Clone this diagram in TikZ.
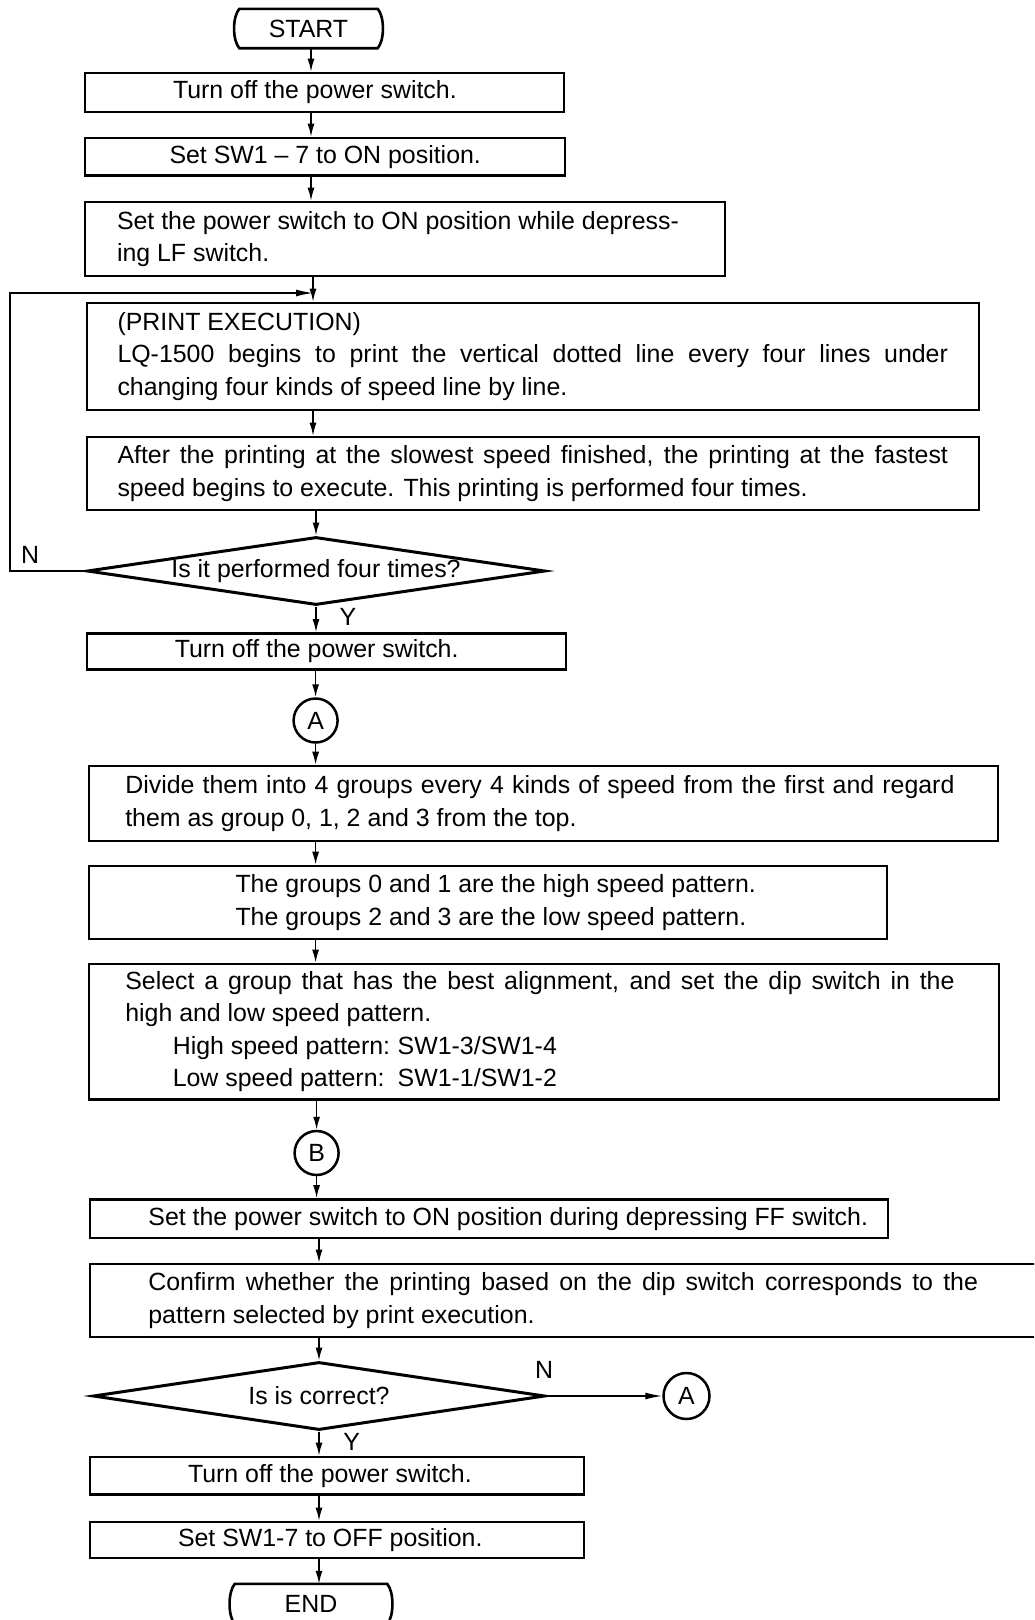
\documentclass[tikz,border=0pt]{standalone}
\usepackage{fontspec}
\setmainfont{Liberation Sans}
\usetikzlibrary{shapes.geometric,arrows.meta}
\setlength{\parindent}{0pt}
\tolerance=10000
\hbadness=10000
\newcommand{\boxtext}[4]{\parbox{#1}{\leftskip=#2\relax\rightskip=#3\relax\parfillskip=0pt plus 1fil\relax #4}}
\begin{document}
\begin{tikzpicture}[x=1pt,y=-1pt,
  every node/.style={font=\fontsize{24.9}{32.5}\selectfont},
  box/.style={draw,line width=2.6pt,rectangle,inner xsep=0pt,inner ysep=0pt},
  dec/.style={draw,diamond,line width=3pt,inner sep=0pt},
  conn/.style={draw,circle,line width=2.5pt,inner sep=0pt,minimum size=44pt},
  term/.style={rectangle,inner sep=0pt},
  termline/.style={line width=2.6pt},
  arr/.style={line width=1.5pt,-{Latex[length=13pt,width=7pt]}},
  harr/.style={line width=1.5pt,-{Latex[length=17pt,width=7pt]}},
  lbl/.style={inner sep=0pt}
]
\useasboundingbox (0,0) rectangle (1034,1620);
\clip (0,0) rectangle (1034,1620);

% spine coordinates
\coordinate (s1) at (311,0);
\coordinate (m) at (313,293);
\coordinate (nx) at (10,0);

% terminal START
\node[term,minimum width=150pt,minimum height=39pt] (start) at (308.5,28.5) {START};
\draw[termline] ([xshift=6pt]start.north west) -- ([xshift=-6pt]start.north east)
  .. controls ([xshift=1pt,yshift=-8pt]start.north east) and ([xshift=1pt,yshift=8pt]start.south east) .. ([xshift=-6pt]start.south east)
  -- ([xshift=6pt]start.south west)
  .. controls ([xshift=-1pt,yshift=8pt]start.south west) and ([xshift=-1pt,yshift=-8pt]start.north west) .. cycle;

% boxes
\node[box,minimum height=39pt] (b1) at (324.5,92.5)
  {\boxtext{479pt}{88pt}{0pt}{Turn off the power switch.}};
\node[box,minimum height=37.5pt] (b2) at (325,156.75)
  {\boxtext{480pt}{84.5pt}{0pt}{Set SW1 -- 7 to ON position.}};
\node[box,minimum height=74pt] (b3) at (405,239)
  {\boxtext{640pt}{32pt}{0pt}{Set the power switch to ON position while depress-\\ing LF switch.}};
\node[box,minimum height=107pt] (b4) at (533,356.5)
  {\boxtext{892pt}{30.5pt}{31pt}{(PRINT EXECUTION)\\LQ-1500 begins to print the vertical dotted line every four lines under\linebreak changing four kinds of speed line by line.}};
\node[box,minimum height=73pt] (b5) at (533,473.5)
  {\boxtext{892pt}{30.5pt}{31pt}{After the printing at the slowest speed finished, the printing at the fastest\linebreak speed begins to execute. This printing is performed four times.}};

\node[dec,minimum width=458pt,minimum height=68pt,aspect=6.73] (d1) at (316,571) {Is it performed four times?};

\node[box,minimum height=36pt] (b6) at (326.5,651.5)
  {\boxtext{479pt}{87.8pt}{0pt}{Turn off the power switch.}};

\node[conn] (A) at (315.6,720.5) {A};

\node[box,minimum height=75pt] (b7) at (543.5,803.5)
  {\boxtext{909pt}{36.3pt}{43.5pt}{Divide them into 4 groups every 4 kinds of speed from the first and regard\linebreak them as group 0, 1, 2 and 3 from the top.}};
\node[box,minimum height=73pt] (b8) at (488,902.5)
  {\boxtext{798pt}{146.5pt}{0pt}{The groups 0 and 1 are the high speed pattern.\\The groups 2 and 3 are the low speed pattern.}};
\node[box,minimum height=135.5pt] (b9) at (544,1031.7)
  {\boxtext{910pt}{36.3pt}{44.5pt}{Select a group that has the best alignment, and set the dip switch in the\linebreak high and low speed pattern.\\\hspace*{47.5pt}\makebox[225pt][l]{High speed pattern:}SW1-3/SW1-4\\\hspace*{47.5pt}\makebox[225pt][l]{Low speed pattern:}SW1-1/SW1-2}};

\node[conn] (B) at (316.6,1153) {B};

\node[box,minimum height=38.5pt] (b10) at (489,1218.7)
  {\boxtext{798pt}{58.4pt}{0pt}{Set the power switch to ON position during depressing FF switch.}};
\node[box,minimum height=73pt] (b11) at (575,1300.5)
  {\boxtext{970pt}{58.4pt}{82pt}{Confirm whether the printing based on the dip switch corresponds to the\linebreak pattern selected by print execution.}};

\node[dec,minimum width=452pt,minimum height=68pt,aspect=6.65] (d2) at (319,1396) {Is is correct?};
\node[conn,minimum size=46pt] (A2) at (686.5,1396) {A};

\node[box,minimum height=37.5pt] (b12) at (337,1475.7)
  {\boxtext{494pt}{98pt}{0pt}{Turn off the power switch.}};
\node[box,minimum height=36pt] (b13) at (337,1540)
  {\boxtext{494pt}{88pt}{0pt}{Set SW1-7 to OFF position.}};

% terminal END
\node[term,minimum width=164pt,minimum height=40pt] (fin) at (311,1604) {END};
\draw[termline] ([xshift=6pt]fin.north west) -- ([xshift=-6pt]fin.north east)
  .. controls ([xshift=1pt,yshift=-8pt]fin.north east) and ([xshift=1pt,yshift=8pt]fin.south east) .. ([xshift=-6pt]fin.south east)
  -- ([xshift=6pt]fin.south west)
  .. controls ([xshift=-1pt,yshift=8pt]fin.south west) and ([xshift=-1pt,yshift=-8pt]fin.north west) .. cycle;

% labels
\node[lbl] (n1) at (30,555) {N};
\node[lbl] (y1) at (348,617) {Y};
\node[lbl] (n2) at (544,1370) {N};
\node[lbl] (y2) at (351.6,1441.7) {Y};

% connectors
\draw[arr] (start.south -| s1) -- (b1.north -| s1);
\draw[arr] (b1.south -| s1) -- (b2.north -| s1);
\draw[arr] (b2.south -| s1) -- (b3.north -| s1);
\draw[arr] (b3.south -| m) -- (b4.north -| m);
\draw[harr] (d1.west) -- (d1.west -| nx) |- (m);
\draw[arr] (b4.south -| m) -- (b5.north -| m);
\draw[arr] (b5.south -| d1) -- (d1.north);
\draw[arr] (d1.south) -- (d1.south |- b6.north);
\draw[arr] (b6.south -| A) -- (A.north);
\draw[arr] (A.south) -- (A.south |- b7.north);
\draw[arr] (b7.south -| A) -- (b8.north -| A);
\draw[arr] (b8.south -| A) -- (b9.north -| A);
\draw[arr] (b9.south -| B) -- (B.north);
\draw[arr] (B.south) -- (B.south |- b10.north);
\draw[arr] (b10.south -| d2) -- (b11.north -| d2);
\draw[arr] (b11.south -| d2) -- (d2.north);
\draw[arr] (d2.south) -- (d2.south |- b12.north);
\draw[arr] (b12.south -| d2) -- (b13.north -| d2);
\draw[arr] (b13.south -| d2) -- (fin.north -| d2);
\draw[harr] (d2.east) -- (A2.west);
\end{tikzpicture}
\end{document}
